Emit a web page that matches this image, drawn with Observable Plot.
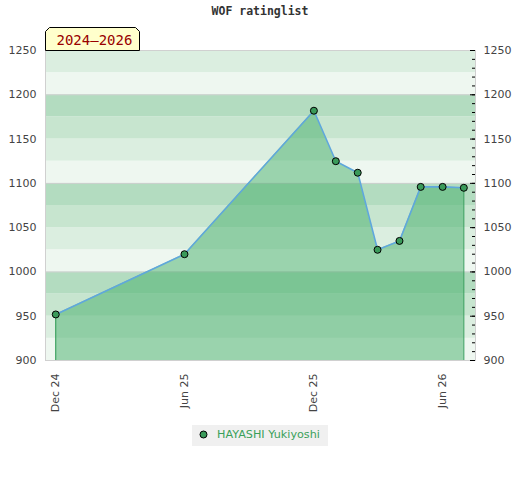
<!DOCTYPE html>
<html><head><meta charset="utf-8">
<script src="https://cdn.jsdelivr.net/npm/d3@7"></script>
<script src="https://cdn.jsdelivr.net/npm/@observablehq/plot@0.6"></script>
<style>
body{margin:0;background:#fff;}
#wrap{position:relative;width:520px;height:480px;}
#chart{position:absolute;left:0;top:0;}
#title{position:absolute;left:0;top:4px;width:520px;text-align:center;font:bold 11.5px "DejaVu Sans Mono";color:#333;}
#badge{position:absolute;left:0;top:0;}
#legend{position:absolute;left:192px;top:425px;width:136px;height:21px;background:#f0f0f0;}
#legend span{position:absolute;left:25px;top:3px;font:11.2px "DejaVu Sans";color:#3aa05a;white-space:nowrap;}
#legend svg{position:absolute;left:0;top:0;}
</style></head><body>
<div id="wrap">
<div id="chart"></div>
<div id="title">WOF ratinglist</div>
<svg id="badge" width="160" height="60">
<polygon points="45.5,50.5 45.5,31.5 49.5,27.5 135.5,27.5 139.5,31.5 139.5,50.5" fill="#ffffcc" stroke="#000" stroke-width="1"/>
<text x="56.5" y="45" font-family="DejaVu Sans Mono" font-size="14px" fill="#990000">2024–2026</text>
</svg>
<div id="legend"><svg width="24" height="21"><circle cx="11.5" cy="9.5" r="3.5" fill="#3a9a5a" stroke="#000" stroke-width="1"/></svg><span id="legendText"></span></div>
</div>
<script>
const dates = ["2024-12-01","2025-06-01","2025-12-01","2026-01-01","2026-02-01","2026-03-01","2026-04-01","2026-05-01","2026-06-01","2026-07-01"];
const ratings = [952,1020,1182,1125,1112,1025,1035,1096,1096,1095];
const player = "HAYASHI Yukiyoshi";
const yTicks = [900,950,1000,1050,1100,1150,1200,1250];
const xTickDates = ["2024-12-01","2025-06-01","2025-12-01","2026-06-01"];
const xTickLabels = ["Dec 24","Jun 25","Dec 25","Jun 26"];
const bandStarts = [900,925,950,975,1000,1025,1050,1075,1100,1125,1150,1175,1200,1225];
const bandColors = ["#eef7f0","#dbeee0","#c7e5cf","#b3dcc0"];
const gridLines = [1000,1100,1200];

document.getElementById("legendText").textContent = player;

const data = dates.map((d,i)=>({date:new Date(d+"T00:00:00Z"), rating:ratings[i]}));
const xDomain = [new Date(Date.UTC(2024,10,16,12)), new Date(Date.UTC(2026,6,17,12))];
const xTicks = xTickDates.map(d=>new Date(d+"T00:00:00Z"));
const minorTicks = d3.range(900, 1251, 10);
const bands = bandStarts.map((b,i)=>({y1:b, y2:b+25, c:bandColors[i%4]}));
const ends = [data[0], data[data.length-1]];

const chart = Plot.plot({
  width:520, height:480,
  marginTop:50, marginBottom:120, marginLeft:45, marginRight:45,
  style:{fontFamily:"DejaVu Sans", fontSize:"11px", color:"#444", background:"transparent"},
  x:{type:"utc", domain:xDomain, label:null},
  y:{domain:[900,1250], label:null},
  color:{type:"identity"},
  marks:[
    Plot.rect(bands, {x1:()=>xDomain[0], x2:()=>xDomain[1], y1:"y1", y2:"y2", fill:"c"}),
    Plot.ruleY(gridLines, {stroke:"#cfcfcf"}),
    Plot.areaY(data, {x:"date", y1:900, y2:"rating", fill:"rgb(61,170,99)", fillOpacity:0.475}),
    Plot.ruleX(ends, {x:"date", y1:900, y2:"rating", stroke:"#2f9a55", strokeWidth:1}),
    Plot.line(data, {x:"date", y:"rating", stroke:"#5fa7dc", strokeWidth:1.6}),
    Plot.frame({stroke:"#d0d0d0"}),
    Plot.tickY(minorTicks, {y:d=>d, insetLeft:427, stroke:"#000"}),
    Plot.tickY(yTicks, {y:d=>d, insetLeft:425, stroke:"#000"}),
    Plot.dot(data, {x:"date", y:"rating", r:3.5, fill:"#3a9a5a", stroke:"#000", strokeWidth:1}),
    Plot.axisY({anchor:"left", ticks:yTicks, tickSize:0, tickPadding:9, label:null, tickFormat:d=>String(d)}),
    Plot.axisY({anchor:"right", ticks:yTicks, tickSize:0, tickPadding:8, label:null, tickFormat:d=>String(d)}),
    Plot.axisX({ticks:xTicks, tickSize:0, tickPadding:13, tickRotate:-90, label:null,
      tickFormat:d=>xTickLabels[xTicks.findIndex(t=>+t===+d)]})
  ]
});
document.getElementById("chart").appendChild(chart);
</script>
</body></html>
